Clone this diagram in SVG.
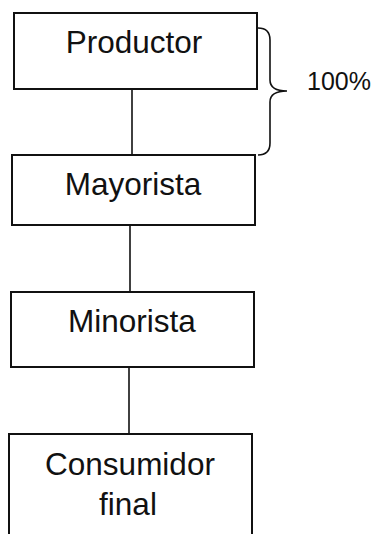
<svg xmlns="http://www.w3.org/2000/svg" width="378" height="534" viewBox="0 0 378 534">
<style>
.box{fill:#fff;stroke:#111;stroke-width:2}
.lbl{font-family:"Liberation Sans",Arial,sans-serif;font-size:31.5px;fill:#111;text-anchor:middle}
.con{stroke:#111;stroke-width:1.6;fill:none}
</style>
<rect width="378" height="534" fill="#fff"/>
<g id="connectors">
<line class="con" x1="132" y1="89" x2="132" y2="155"/>
<line class="con" x1="130" y1="225" x2="130" y2="292"/>
<line class="con" x1="129" y1="367" x2="129" y2="434"/>
</g>
<g id="brace">
<path class="con" d="M258 28 Q270 28 270 40 L270 80 Q270 91 287 91 Q270 91 270 102 L270 143 Q270 155 258 155"/>
<text class="lbl" x="339" y="90" style="font-size:25px">100%</text>
</g>
<g id="productor">
<rect class="box" x="14" y="13" width="243" height="76"/>
<text class="lbl" x="134" y="53">Productor</text>
</g>
<g id="mayorista">
<rect class="box" x="12" y="155" width="243" height="70"/>
<text class="lbl" x="133" y="195">Mayorista</text>
</g>
<g id="minorista">
<rect class="box" x="11" y="292" width="243" height="75"/>
<text class="lbl" x="132" y="332">Minorista</text>
</g>
<g id="consumidor">
<rect class="box" x="9" y="434" width="243" height="110"/>
<text class="lbl" x="130" y="475">Consumidor</text>
<text class="lbl" x="128" y="515">final</text>
</g>
</svg>
